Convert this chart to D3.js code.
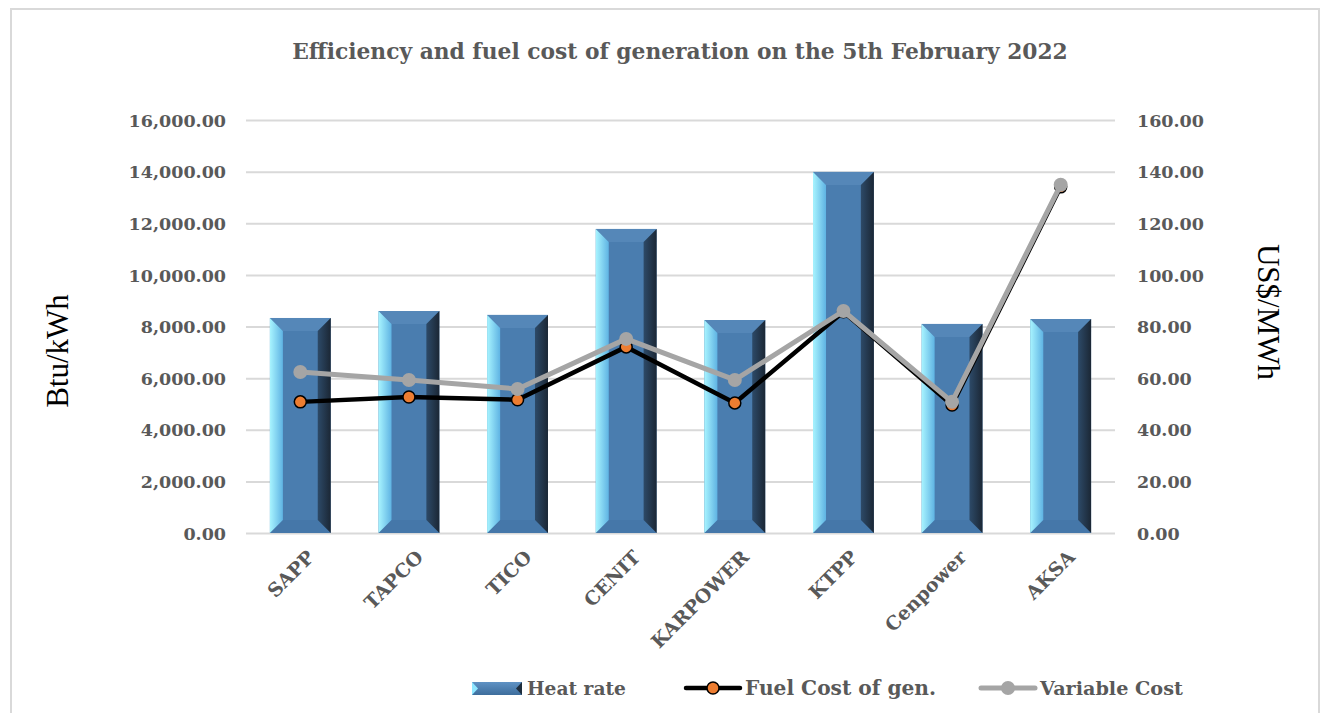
<!DOCTYPE html>
<html><head><meta charset="utf-8">
<script src="https://cdn.jsdelivr.net/npm/d3@7"></script>
<style>html,body{margin:0;padding:0;background:#fff;}svg{display:block;}</style>
</head><body>
<svg id="chart" width="1329" height="713"></svg>
<script>
const categories = ["SAPP","TAPCO","TICO","CENIT","KARPOWER","KTPP","Cenpower","AKSA"];
const heatRate = [8330, 8600, 8450, 11780, 8250, 13990, 8100, 8290];
const fuelCost = [50.8, 52.7, 51.6, 72.1, 50.4, 85.7, 49.6, 134.1];
const variableCost = [62.4, 59.3, 55.8, 75.2, 59.3, 86.0, 50.8, 134.9];
const leftTicks = [0,2000,4000,6000,8000,10000,12000,14000,16000];
const rightTicks = [0,20,40,60,80,100,120,140,160];
const titleText = "Efficiency and fuel cost of generation on the 5th February 2022";
const leftTitle = "Btu/kWh", rightTitle = "US$/MWh";
const legendLabels = ["Heat rate","Fuel Cost of gen.","Variable Cost"];

const svg = d3.select("#chart");
const TXT = "#595959";
const BOLD = "'DejaVu Serif', serif";
const REG = "'Liberation Serif', 'Times New Roman', serif";

function fit(sel, target) {
  const node = sel.node();
  const fs = parseFloat(sel.attr("font-size"));
  const w = node.getComputedTextLength();
  sel.attr("font-size", (fs * target / w).toFixed(2));
}

// border
svg.append("path").attr("d","M11,713 V9 H1319 V713").attr("fill","none").attr("stroke","#d9d9d9").attr("stroke-width",2);

const x = d3.scaleBand().domain(categories).range([246,1115]).paddingInner(0.44).paddingOuter(0.22);
const yL = d3.scaleLinear().domain([0,16000]).range([533,120]);
const yR = d3.scaleLinear().domain([0,160]).range([533,120]);

// title
const t = svg.append("text").attr("x",680).attr("y",59).attr("text-anchor","middle")
  .attr("font-family",BOLD).attr("font-weight","bold").attr("font-size",20).attr("fill",TXT).text(titleText);
fit(t, 776);

// gridlines
svg.append("g").selectAll("line").data(leftTicks).join("line")
  .attr("x1",246).attr("x2",1115).attr("y1",d=>yL(d)+0.5).attr("y2",d=>yL(d)+0.5)
  .attr("stroke","#d9d9d9").attr("stroke-width",2);

// left axis
const gl = svg.append("g").attr("transform","translate(246,0)")
  .call(d3.axisLeft(yL).tickValues(leftTicks).tickSize(0).tickPadding(20).tickFormat(d3.format(",.2f")));
gl.select(".domain").remove();
gl.selectAll("text").attr("font-family",BOLD).attr("font-weight","bold").attr("font-size",17.5).attr("fill",TXT).attr("dy","0.35em");

const gr = svg.append("g").attr("transform","translate(1115,0)")
  .call(d3.axisRight(yR).tickValues(rightTicks).tickSize(0).tickPadding(22).tickFormat(d3.format(",.2f")));
gr.select(".domain").remove();
gr.selectAll("text").attr("font-family",BOLD).attr("font-weight","bold").attr("font-size",17.5).attr("fill",TXT).attr("dy","0.35em");

// axis titles
svg.append("text").attr("transform","translate(68,351) rotate(-90)").attr("text-anchor","middle")
  .attr("font-family",REG).attr("font-size",31).attr("fill","#000").text(leftTitle);
svg.append("text").attr("transform","translate(1258,312) rotate(90)").attr("text-anchor","middle")
  .attr("font-family",REG).attr("font-size",31).attr("fill","#000").text(rightTitle);

// gradients
const defs = svg.append("defs");
const gL = defs.append("linearGradient").attr("id","gl").attr("x1","0").attr("x2","1");
gL.append("stop").attr("offset","0").attr("stop-color","#a8f4ff");
gL.append("stop").attr("offset","1").attr("stop-color","#5fb3e3");
const gRt = defs.append("linearGradient").attr("id","gr").attr("x1","0").attr("x2","1");
gRt.append("stop").attr("offset","0").attr("stop-color","#2d4a68");
gRt.append("stop").attr("offset","1").attr("stop-color","#1b2735");
const gLeg = defs.append("linearGradient").attr("id","gleg").attr("x1","0").attr("x2","0").attr("y1","0").attr("y2","1");
gLeg.append("stop").attr("offset","0").attr("stop-color","#5f92c4");
gLeg.append("stop").attr("offset","1").attr("stop-color","#3d6d9c");

// bars with bevel
const B = 13;
const bars = svg.append("g").selectAll("g").data(categories.map((c,i)=>({c, v:heatRate[i]}))).join("g");
bars.each(function(d){
  const g = d3.select(this);
  const x0 = x(d.c), x1 = x0 + x.bandwidth(), y0 = yL(d.v), y1 = yL(0);
  g.append("rect").attr("x",x0).attr("y",y0).attr("width",x1-x0).attr("height",y1-y0).attr("fill","#4a7daf");
  g.append("polygon").attr("points",[[x0,y0],[x1,y0],[x1-B,y0+B],[x0+B,y0+B]].join(" ")).attr("fill","#5587b8");
  g.append("polygon").attr("points",[[x0,y1],[x1,y1],[x1-B,y1-B],[x0+B,y1-B]].join(" ")).attr("fill","#4577a9");
  g.append("polygon").attr("points",[[x0,y0],[x0+B,y0+B],[x0+B,y1-B],[x0,y1]].join(" ")).attr("fill","url(#gl)");
  g.append("polygon").attr("points",[[x1,y0],[x1-B,y0+B],[x1-B,y1-B],[x1,y1]].join(" ")).attr("fill","url(#gr)");
});

// x labels
const cx = c => x(c) + x.bandwidth()/2;
svg.append("g").selectAll("text").data(categories).join("text")
  .attr("transform", c => `translate(${cx(c)+6},${549}) rotate(-45)`)
  .attr("text-anchor","end").attr("dy","0.7em")
  .attr("font-family",BOLD).attr("font-weight","bold").attr("font-size",19).attr("fill",TXT).text(c=>c);

// lines
const lineF = d3.line().x((d,i)=>cx(categories[i])).y(d=>yR(d));
svg.append("path").attr("d",lineF(fuelCost)).attr("fill","none").attr("stroke","#000").attr("stroke-width",4.5).attr("stroke-linejoin","round");
svg.append("g").selectAll("circle").data(fuelCost).join("circle")
  .attr("cx",(d,i)=>cx(categories[i])).attr("cy",d=>yR(d)).attr("r",6)
  .attr("fill","#ed7d31").attr("stroke","#000").attr("stroke-width",1.5);
svg.append("path").attr("d",lineF(variableCost)).attr("fill","none").attr("stroke","#a5a5a5").attr("stroke-width",5).attr("stroke-linejoin","round");
svg.append("g").selectAll("circle").data(variableCost).join("circle")
  .attr("cx",(d,i)=>cx(categories[i])).attr("cy",d=>yR(d)).attr("r",7)
  .attr("fill","#a5a5a5");

// legend
const LY = 688;
const leg = svg.append("g");
leg.append("rect").attr("x",472).attr("y",682).attr("width",50).attr("height",13).attr("fill","url(#gleg)");
leg.append("polygon").attr("points","472,682 478,688.5 472,695").attr("fill","#8fe6ff");
leg.append("polygon").attr("points","522,682 516,688.5 522,695").attr("fill","#1e2d3d");
leg.append("line").attr("x1",686).attr("x2",740).attr("y1",LY).attr("y2",LY).attr("stroke","#000").attr("stroke-width",4.5).attr("stroke-linecap","round");
leg.append("circle").attr("cx",713).attr("cy",LY).attr("r",6).attr("fill","#ed7d31").attr("stroke","#000").attr("stroke-width",1.5);
leg.append("line").attr("x1",981).attr("x2",1035).attr("y1",LY).attr("y2",LY).attr("stroke","#a5a5a5").attr("stroke-width",5).attr("stroke-linecap","round");
leg.append("circle").attr("cx",1008).attr("cy",LY).attr("r",7).attr("fill","#a5a5a5");
const lx = [527,745,1040], lw = [99,191,143];
legendLabels.forEach((s,i)=>{
  const tt = leg.append("text").attr("x",lx[i]).attr("y",LY).attr("dy","0.36em")
    .attr("font-family",BOLD).attr("font-weight","bold").attr("font-size",18).attr("fill",TXT).text(s);
  fit(tt, lw[i]);
});
</script>
</body></html>
